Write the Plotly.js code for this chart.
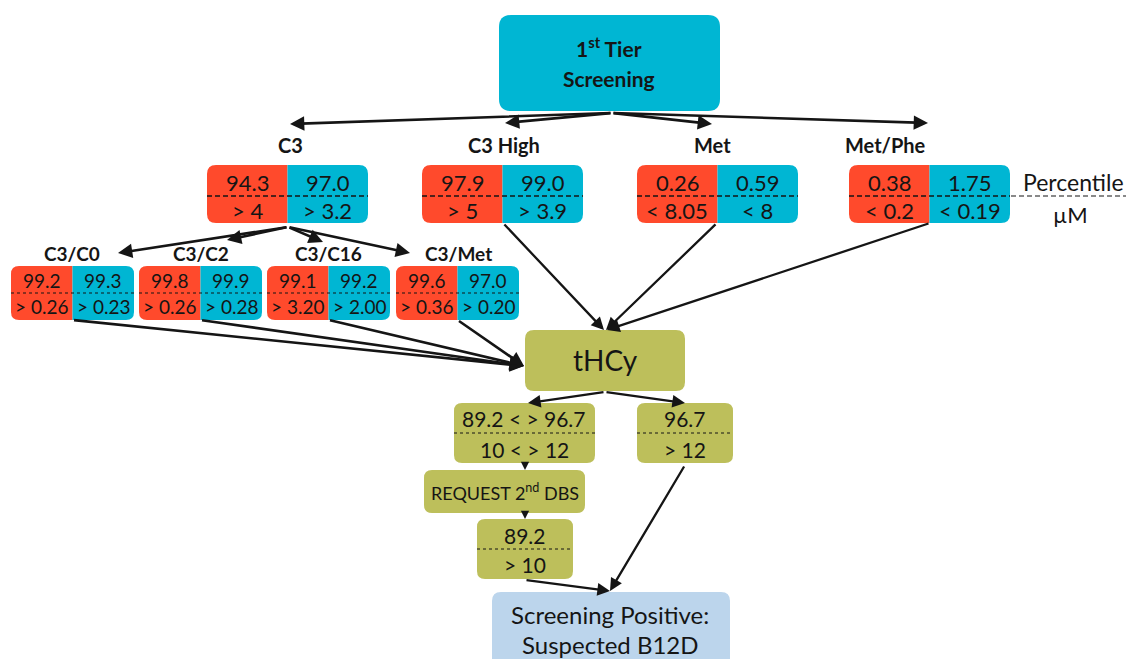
<!DOCTYPE html>
<html><head><meta charset="utf-8">
<script src="https://cdn.plot.ly/plotly-3.0.1.min.js"></script>
<style>html,body{margin:0;padding:0;background:#fff}#chart{width:1126px;height:659px}</style>
</head><body><div id="chart"></div>
<script>
// ---- data ----
const tier1Labels = ['C3', 'C3 High', 'Met', 'Met/Phe'];
const tier1PctRed = ['94.3', '97.9', '0.26', '0.38'];
const tier1PctBlue = ['97.0', '99.0', '0.59', '1.75'];
const tier1CutRed = ['> 4', '> 5', '< 8.05', '< 0.2'];
const tier1CutBlue = ['> 3.2', '> 3.9', '< 8', '< 0.19'];

const tier2Labels = ['C3/C0', 'C3/C2', 'C3/C16', 'C3/Met'];
const tier2PctRed = ['99.2', '99.8', '99.1', '99.6'];
const tier2PctBlue = ['99.3', '99.9', '99.2', '97.0'];
const tier2CutRed = ['> 0.26', '> 0.26', '> 3.20', '> 0.36'];
const tier2CutBlue = ['> 0.23', '> 0.28', '> 2.00', '> 0.20'];

const thcyPct = ['89.2 < > 96.7', '96.7', '89.2'];
const thcyCut = ['10 < > 12', '> 12', '> 10'];

const legendTop = 'Percentile';
const legendBottom = 'µM';

// ---- styles ----
const RED = '#FF4A2C', CYAN = '#00B6D3', OLIVE = '#BDBF5B', LBLUE = '#BCD5EC', INK = '#151515';
const FONT = 'Lato, "Open Sans", sans-serif';

const shapes = [], ann = [];

function rpath(x0, x1, y0, y1, r, c) { // c = [tl,tr,br,bl]
  const [tl, tr, br, bl] = c.map(v => v ? r : 0);
  let p = `M${x0 + tl},${y0} L${x1 - tr},${y0}`;
  if (tr) p += ` Q${x1},${y0} ${x1},${y0 + tr}`;
  p += ` L${x1},${y1 - br}`;
  if (br) p += ` Q${x1},${y1} ${x1 - br},${y1}`;
  p += ` L${x0 + bl},${y1}`;
  if (bl) p += ` Q${x0},${y1} ${x0},${y1 - bl}`;
  p += ` L${x0},${y0 + tl}`;
  if (tl) p += ` Q${x0},${y0} ${x0 + tl},${y0}`;
  return p + ' Z';
}
function box(x0, x1, y0, y1, r, color, corners) {
  shapes.push({type: 'path', path: rpath(x0, x1, y0, y1, r, corners || [1, 1, 1, 1]),
    fillcolor: color, line: {width: 0}, layer: 'below'});
}
function text(x, y, t, size, bold, color) {
  ann.push({x: x, y: y, xref: 'x', yref: 'y', text: bold ? '<b>' + t + '</b>' : t, showarrow: false,
    font: {family: FONT, size: size, color: color || INK}, xanchor: 'center', yanchor: 'middle'});
}
function line(x0, y0, x1, y1, w, dash) {
  shapes.push({type: 'line', x0: x0, y0: y0, x1: x1, y1: y1, line: {color: INK, width: w, dash: dash || 'solid'}});
}
function arrow(x0, y0, x1, y1, w, head) {
  ann.push({x: x1, y: y1, ax: x0, ay: y0, xref: 'x', yref: 'y', axref: 'x', ayref: 'y', text: '',
    showarrow: true, arrowhead: head || 2, arrowsize: 1.1, arrowwidth: w || 2.5, arrowcolor: INK, standoff: 0, startstandoff: 0});
}

// ---- top box ----
box(499, 720, 15, 111, 12, CYAN);
text(609, 47, '1<sup>st</sup> Tier', 21, true);
text(609, 78, 'Screening', 21, true);

// ---- tier 1 ----
const t1X = [207, 422, 637, 849], t1W = 161, t1Y0 = 165, t1Y1 = 223;
const t1LabelX = [290, 504, 712, 885];
const t1ArrowHead = [[290, 124], [505, 123], [712, 124], [928, 123]];
t1ArrowHead.forEach(h => arrow(612, 113, h[0], h[1], 2.6));
tier1Labels.forEach((lab, i) => {
  const x0 = t1X[i], x1 = x0 + t1W, xm = x0 + t1W / 2;
  box(x0, xm, t1Y0, t1Y1, 9, RED, [1, 0, 0, 1]);
  box(xm, x1, t1Y0, t1Y1, 9, CYAN, [0, 1, 1, 0]);
  line(x0, 196, x1, 196, 1.6, '5px,3px');
  text(t1LabelX[i], 145, lab, 20, true);
  text((x0 + xm) / 2, 182, tier1PctRed[i], 22);
  text((xm + x1) / 2, 182, tier1PctBlue[i], 22);
  text((x0 + xm) / 2, 210, tier1CutRed[i], 22);
  text((xm + x1) / 2, 210, tier1CutBlue[i], 22);
});
// legend
line(1011, 196, 1126, 196, 1.2, '5px,3px');
text(1073, 182, legendTop, 23);
text(1070, 214, legendBottom, 22);

// ---- tier 2 ----
const t2X = [11, 139, 267, 396], t2W = 123, t2Y0 = 266, t2Y1 = 320;
const t2LabelX = [72, 201, 328, 458];
const t2ArrowHead = [[118, 253], [227, 240], [323, 242], [410, 253]];
t2ArrowHead.forEach(h => arrow(288, 227, h[0], h[1], 2.6));
tier2Labels.forEach((lab, i) => {
  const x0 = t2X[i], x1 = x0 + t2W, xm = x0 + t2W / 2;
  box(x0, xm, t2Y0, t2Y1, 8, RED, [1, 0, 0, 1]);
  box(xm, x1, t2Y0, t2Y1, 8, CYAN, [0, 1, 1, 0]);
  line(x0, 293, x1, 293, 1.2, 'dot');
  text(t2LabelX[i], 253, lab, 19, true);
  text((x0 + xm) / 2, 280, tier2PctRed[i], 19);
  text((xm + x1) / 2, 280, tier2PctBlue[i], 19);
  text((x0 + xm) / 2, 306, tier2CutRed[i], 19);
  text((xm + x1) / 2, 306, tier2CutBlue[i], 19);
  arrow(xm, t2Y1, 524, 366, 2.6);
});

// ---- tier 1 to tHCy ----
arrow(503, 223, 604, 330, 2.3);
arrow(717, 223, 606, 330, 2.3);
arrow(930, 223, 607, 330, 2.3);

// ---- tHCy ----
box(525, 685, 330, 391, 9, OLIVE);
text(605, 360, 'tHCy', 28);
arrow(605, 392, 528, 403, 2.3);
arrow(605, 392, 685, 403, 2.3);

box(454, 595, 403, 463, 8, OLIVE);
line(454, 433, 595, 433, 1, 'dot');
text(524, 418, thcyPct[0], 21);
text(524, 449, thcyCut[0], 21);

box(637, 733, 403, 463, 8, OLIVE);
line(637, 433, 733, 433, 1, 'dot');
text(685, 418, thcyPct[1], 21);
text(685, 449, thcyCut[1], 21);

arrow(525, 463, 525, 470, 1.5);
box(424, 585, 470, 513, 8, OLIVE);
text(505, 492, 'REQUEST 2<sup>nd</sup> DBS', 18);
arrow(525, 513, 525, 519, 1.5);

box(477, 573, 519, 579, 8, OLIVE);
line(477, 549, 573, 549, 1, 'dot');
text(525, 535, thcyPct[2], 21);
text(525, 564, thcyCut[2], 21);

arrow(525, 580, 610, 591, 2.3);
arrow(685, 465, 610, 591, 2.3);

box(492, 730, 592, 670, 9, LBLUE);
text(610, 614, 'Screening Positive:', 24);
text(610, 644, 'Suspected B12D', 24);

const layout = {
  width: 1126, height: 659, margin: {l: 0, r: 0, t: 0, b: 0},
  paper_bgcolor: '#fff', plot_bgcolor: '#fff', showlegend: false,
  xaxis: {range: [0, 1126], visible: false, fixedrange: true},
  yaxis: {range: [659, 0], visible: false, fixedrange: true},
  shapes: shapes, annotations: ann
};
Plotly.newPlot('chart', [{x: [], y: [], type: 'scatter'}], layout, {staticPlot: true});
</script></body></html>
